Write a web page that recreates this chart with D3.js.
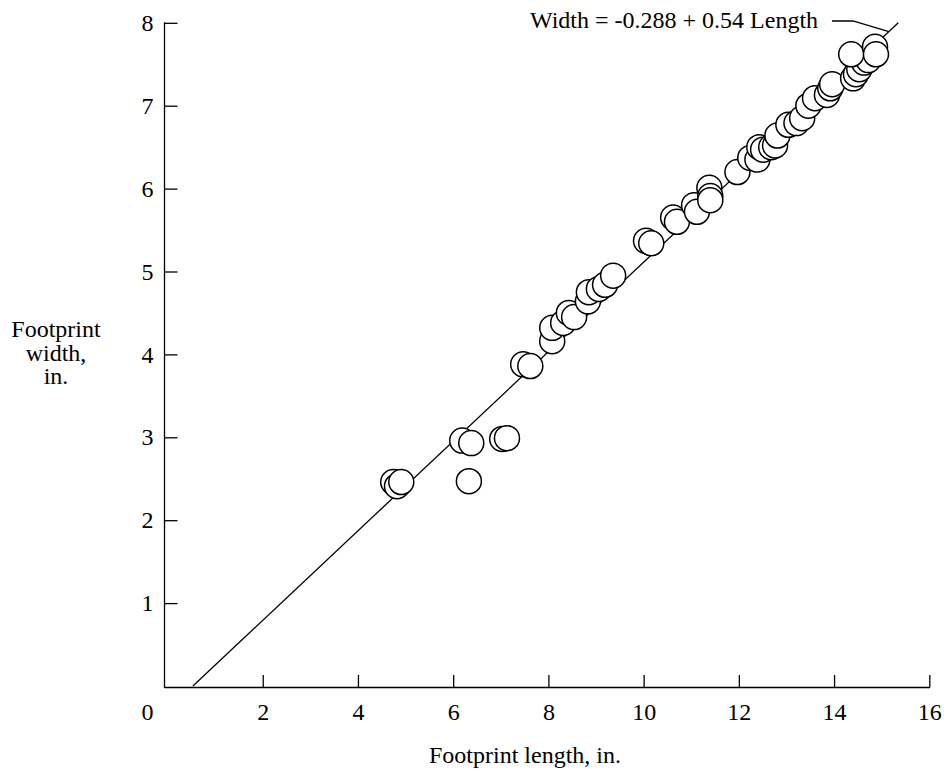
<!DOCTYPE html>
<html><head><meta charset="utf-8">
<script src="https://cdn.jsdelivr.net/npm/d3@7"></script>
<style>body{margin:0;background:#fff}svg{display:block}text{font-family:"Liberation Serif","Times New Roman",serif;fill:#000}</style>
</head><body>
<svg id="c" width="952" height="769"></svg>
<script>
const lengths = [4.74,4.82,4.91,6.19,6.38,6.33,7.03,7.13,7.47,7.62,8.08,8.08,8.31,8.43,8.54,8.83,8.85,9.06,9.19,9.36,10.05,10.16,10.62,10.70,11.06,11.12,11.38,11.40,11.40,11.97,12.24,12.39,12.43,12.51,12.68,12.76,12.81,13.04,13.21,13.33,13.46,13.60,13.85,13.92,13.96,14.40,14.46,14.53,14.63,14.72,14.36,14.86,14.88];
const widths  = [2.46,2.41,2.46,2.96,2.93,2.47,2.98,2.99,3.88,3.86,4.16,4.32,4.38,4.50,4.45,4.64,4.75,4.79,4.84,4.95,5.37,5.34,5.65,5.60,5.80,5.72,6.01,5.91,5.86,6.20,6.37,6.35,6.50,6.47,6.50,6.52,6.64,6.77,6.79,6.85,7.00,7.09,7.13,7.21,7.26,7.33,7.38,7.44,7.52,7.55,7.62,7.71,7.62];
const xTicks = [2,4,6,8,10,12,14,16];
const yTicks = [1,2,3,4,5,6,7,8];
const intercept = -0.288, slope = 0.54;
const eqLabel = "Width = -0.288 + 0.54 Length";
const xTitle = "Footprint length, in.";
const yTitle = ["Footprint","width,","in."];

const svg = d3.select("#c");
const FS = 24;
const x = d3.scaleLinear().domain([0,16]).range([167.5,929.3]);
const y = d3.scaleLinear().domain([0,8]).range([686,22.8]);
const axX = 164.5, axY = 687.5;

// regression line
const L0 = -intercept/slope, L1 = (8-intercept)/slope;
svg.append("line").attr("x1",x(L0)).attr("y1",y(0)).attr("x2",x(L1)).attr("y2",y(8))
  .attr("stroke","#000").attr("stroke-width",1.3);

// axes
const gx = svg.append("g").attr("transform",`translate(0,${axY})`)
  .call(d3.axisBottom(x).tickValues(xTicks).tickSize(-12.5).tickPadding(15).tickFormat(d3.format("d")));
gx.select(".domain").remove();
gx.selectAll("line").attr("stroke","#000").attr("stroke-width",1.3);
gx.selectAll("text").attr("font-size",FS).attr("font-family","Liberation Serif");
svg.append("line").attr("x1",axX).attr("x2",x(16)+0.6).attr("y1",axY).attr("y2",axY).attr("stroke","#000").attr("stroke-width",1.3);

const gy = svg.append("g").attr("transform",`translate(${axX},0)`)
  .call(d3.axisLeft(y).tickValues(yTicks).tickSize(-13).tickPadding(11).tickFormat(d3.format("d")));
gy.select(".domain").remove();
gy.selectAll("line").attr("stroke","#000").attr("stroke-width",1.3);
gy.selectAll("text").attr("font-size",FS).attr("font-family","Liberation Serif");
svg.append("line").attr("x1",axX).attr("x2",axX).attr("y1",axY+0.6).attr("y2",y(8)-0.6).attr("stroke","#000").attr("stroke-width",1.3);

// origin label
svg.append("text").attr("x",147.5).attr("y",axY+15).attr("dy","0.71em").attr("text-anchor","middle").attr("font-size",FS).text("0");

// points
svg.append("g").selectAll("circle").data(lengths.map((l,i)=>[l,widths[i]])).join("circle")
  .attr("cx",d=>x(d[0])).attr("cy",d=>y(d[1])).attr("r",12.5)
  .attr("fill","#fff").attr("stroke","#000").attr("stroke-width",1.5);

// equation label + leader
svg.append("text").attr("x",530).attr("y",28).attr("font-size",FS).text(eqLabel);
const Lp = 15.15;
svg.append("path").attr("d",`M832,21 L853,21 L${x(Lp)},${y(intercept+slope*Lp)}`)
  .attr("fill","none").attr("stroke","#000").attr("stroke-width",1.3);

// titles
svg.append("text").attr("x",525).attr("y",763).attr("text-anchor","middle").attr("font-size",FS).text(xTitle);
yTitle.forEach((t,i)=>svg.append("text").attr("x",56).attr("y",337+i*23.5).attr("text-anchor","middle").attr("font-size",FS).text(t));
</script>
</body></html>
